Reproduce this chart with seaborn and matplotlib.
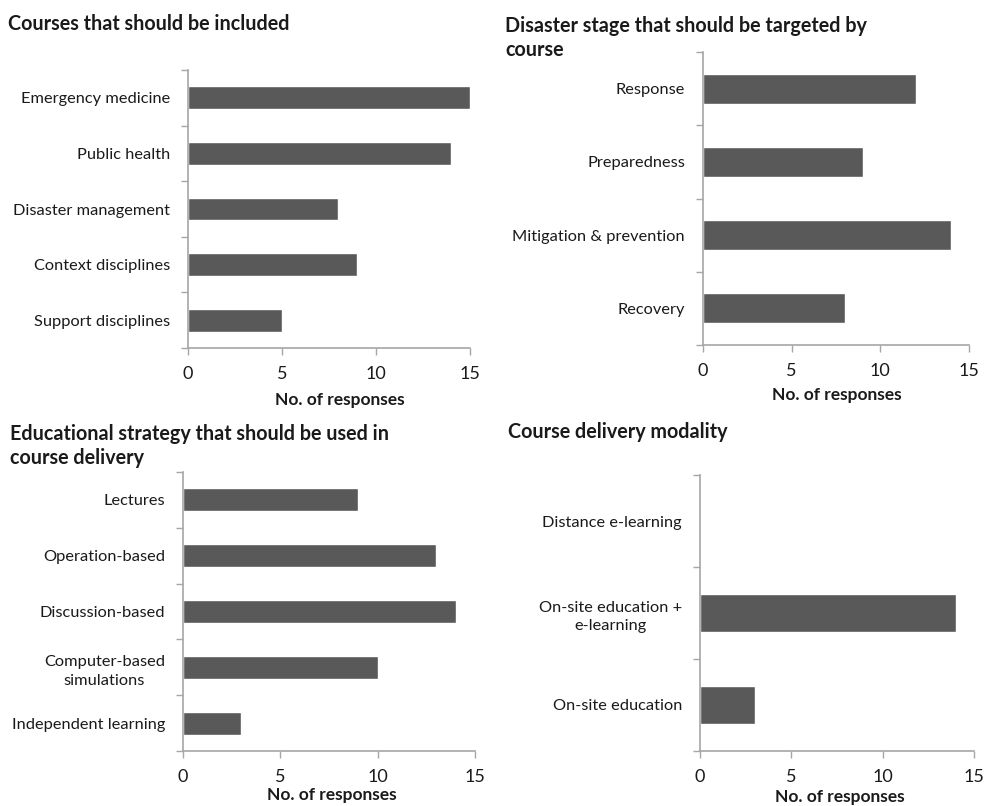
import matplotlib
matplotlib.use("Agg")
import matplotlib.pyplot as plt
import seaborn as sns
import pandas as pd
import numpy as np

sns.set_theme(style="white")
plt.rcParams['font.family'] = ['Lato', 'DejaVu Sans']

# Data
courses_cats = ["Emergency medicine", "Public health", "Disaster management",
                "Context disciplines", "Support disciplines"]
courses_vals = [15, 14, 8, 9, 5]

stage_cats = ["Response", "Preparedness", "Mitigation & prevention", "Recovery"]
stage_vals = [12, 9, 14, 8]

strategy_cats = ["Lectures", "Operation-based", "Discussion-based",
                 "Computer-based\nsimulations", "Independent learning"]
strategy_vals = [9, 13, 14, 10, 3]

modality_cats = ["Distance e-learning", "On-site education +\ne-learning", "On-site education"]
modality_vals = [0, 14, 3]

titles = ["Courses that should be included",
          "Disaster stage that should be targeted by\ncourse",
          "Educational strategy that should be used in\ncourse delivery",
          "Course delivery modality"]
xticks = [0, 5, 10, 15]
xlabel = "No. of responses"

W, H = 985, 806
fig = plt.figure(figsize=(W / 100, H / 100), dpi=100)

def add_ax(left, right, top, bottom):
    return fig.add_axes([left / W, 1 - bottom / H, (right - left) / W, (bottom - top) / H])

panels = [
    (courses_cats, courses_vals, (188, 470, 70, 348), (8, 24), (340, 400)),
    (stage_cats, stage_vals, (703, 969, 52, 345), (505, 38), (837, 395)),
    (strategy_cats, strategy_vals, (183, 475, 472, 751), (10, 446), (332, 795)),
    (modality_cats, modality_vals, (700, 974, 475, 751), (508, 432), (840, 797)),
]

bar_color = "#595959"
spine_color = "#a6a6a6"
text_color = "#1a1a1a"

for (cats, vals, box, tpos, xlpos), title in zip(panels, titles):
    ax = add_ax(*box)
    df = pd.DataFrame({"cat": cats, "val": vals})
    sns.barplot(data=df, x="val", y="cat", orient="h", color=bar_color,
                width=0.41, ax=ax, saturation=1)
    n = len(cats)
    ax.set_xlim(0, 15)
    ax.set_ylim(n - 0.5, -0.5)
    ax.set_xticks(xticks)
    ax.set_xticklabels([str(t) for t in xticks], fontsize=13, color=text_color)
    ax.set_yticks(range(n))
    ax.set_yticklabels(cats, fontsize=11.8, color=text_color,
                       multialignment="center", linespacing=1.45)
    ax.set_yticks(np.arange(-0.5, n, 1.0), minor=True)
    ax.tick_params(axis="y", which="major", length=0, pad=13)
    ax.tick_params(axis="y", which="minor", length=5, width=1, color=spine_color, direction="out", left=True)
    ax.tick_params(axis="x", which="major", length=5, width=1, color=spine_color, direction="out", bottom=True, pad=8)
    ax.set_ylabel("")
    ax.set_xlabel("")
    for s in ["top", "right"]:
        ax.spines[s].set_visible(False)
    for s in ["left", "bottom"]:
        ax.spines[s].set_color(spine_color)
        ax.spines[s].set_linewidth(1.2)
    ax.grid(False)
    fig.text(xlpos[0] / W, 1 - xlpos[1] / H, xlabel, ha="center", va="center",
             fontsize=12.5, fontweight="bold", color=text_color)
    fig.text(tpos[0] / W, 1 - tpos[1] / H, title, ha="left", va="center",
             fontsize=14.2, fontweight="bold", color=text_color, linespacing=1.3)

fig.savefig("out.png", dpi=100, facecolor="white")
